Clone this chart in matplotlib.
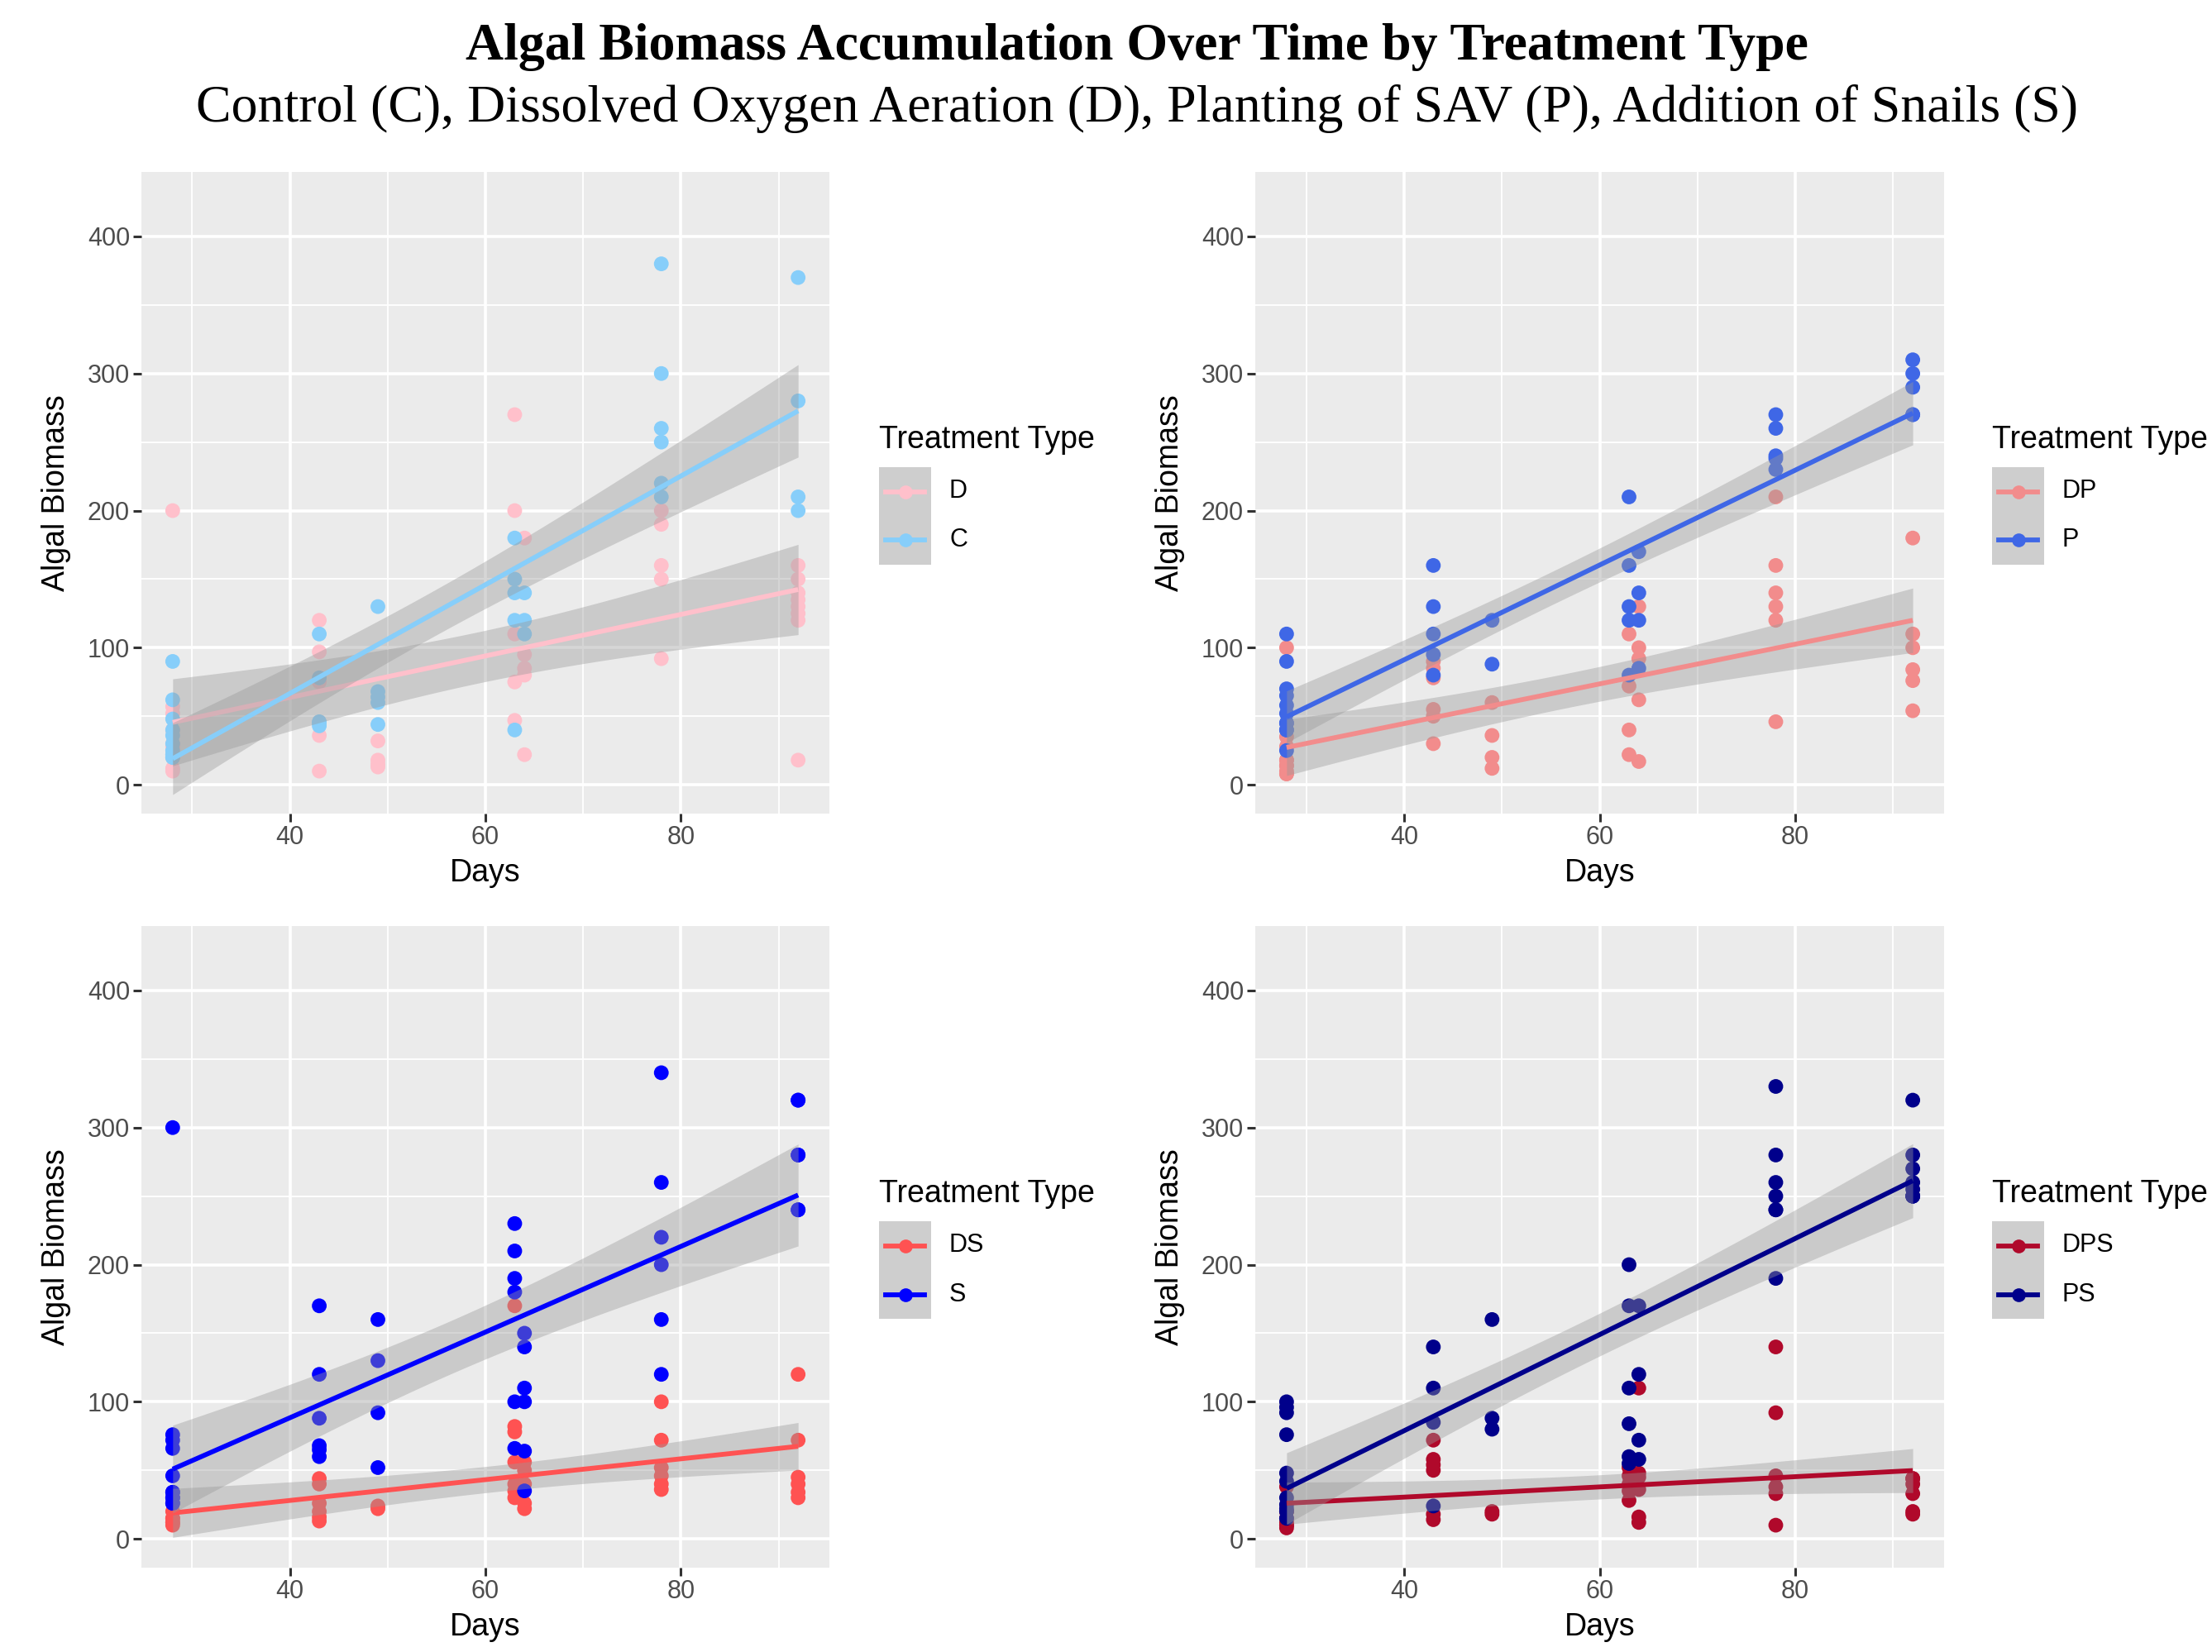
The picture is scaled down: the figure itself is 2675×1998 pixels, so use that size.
import matplotlib.pyplot as plt
from matplotlib.patches import Rectangle
from matplotlib.lines import Line2D
from matplotlib.ticker import MultipleLocator
import numpy as np

W, H = 2675, 1998
DPI = 100

# sampling days (shared by every treatment)
days = [28, 43, 49, 63, 64, 78, 92]

# biomass readings per day, one inner list per entry of `days`
# (repeated values stand for points hidden under each other)
c_values = [[90, 62, 48, 40, 36, 30, 25, 22, 22, 20, 20], [110, 78, 46, 45, 43],
            [130, 68, 64, 60, 44], [180, 150, 140, 120, 40], [140, 120, 110],
            [380, 300, 260, 250, 220, 210], [370, 280, 210, 200]]
d_values = [[200, 57, 52, 40, 30, 28, 20, 12, 10], [120, 97, 75, 36, 10], [32, 18, 15, 13],
            [270, 200, 110, 75, 47], [180, 95, 85, 80, 22], [200, 190, 160, 150, 92],
            [160, 150, 140, 135, 130, 125, 120, 18]]
p_values = [[110, 90, 70, 65, 58, 52, 45, 45, 40, 40, 25], [160, 130, 110, 95, 80], [120, 88],
            [210, 160, 130, 120, 80], [170, 140, 120, 85], [270, 260, 240, 238, 230],
            [310, 300, 290, 270, 270]]
dp_values = [[100, 35, 28, 18, 18, 14, 14, 10, 8, 8], [90, 85, 78, 55, 50, 30], [60, 36, 20, 12],
             [110, 72, 40, 22], [130, 100, 92, 62, 17], [210, 160, 140, 130, 120, 46],
             [180, 110, 100, 84, 76, 54]]
s_values = [[300, 76, 72, 66, 46, 34, 34, 30, 30, 26, 26], [170, 120, 88, 68, 65, 60],
            [160, 130, 92, 52], [230, 210, 190, 180, 100, 66], [150, 140, 110, 100, 64, 35],
            [340, 260, 220, 200, 160, 120], [320, 320, 280, 280, 240, 240]]
ds_values = [[20, 15, 15, 12, 12, 10], [44, 40, 26, 20, 16, 13], [24, 22],
             [170, 82, 78, 56, 40, 35, 30], [56, 50, 40, 26, 22], [100, 72, 52, 46, 40, 36],
             [120, 72, 45, 40, 34, 30]]
ps_values = [[100, 96, 92, 76, 48, 42, 30, 25, 22, 20, 15], [140, 110, 85, 24], [160, 88, 80],
             [200, 170, 110, 84, 60, 55], [170, 120, 72, 58], [330, 280, 260, 250, 240, 240, 190],
             [320, 280, 270, 260, 255, 250, 250, 250]]
dps_values = [[38, 20, 20, 15, 12, 10, 10, 8], [72, 58, 54, 50, 18, 14], [20, 18],
              [52, 46, 40, 35, 28], [110, 48, 45, 36, 16, 12], [140, 92, 46, 38, 33, 10],
              [44, 44, 40, 33, 20, 18]]

# panels: (first label, first values, first colour, second label, second values, second colour)
panels = [
    ("D", d_values, "#FFC0CB", "C", c_values, "#87CEFA"),
    ("DP", dp_values, "#F28C8C", "P", p_values, "#3F67E6"),
    ("DS", ds_values, "#FF5252", "S", s_values, "#0000FF"),
    ("DPS", dps_values, "#B0092B", "PS", ps_values, "#00008B"),
]

# panel boxes in pixels: left, top, right, bottom
boxes = [(171, 208, 1003, 984), (1518, 208, 2351, 984),
         (171, 1120, 1003, 1896), (1518, 1120, 2351, 1896)]
legend_xy = [(1063, 565), (2409, 565), (1063, 1477), (2409, 1477)]


def fx(x):
    return x / W


def fy(y):
    return 1 - y / H


def t975(df):
    # cornish-fisher expansion of the student t quantile
    z = 1.959964
    return z + (z**3 + z) / (4 * df) + (5 * z**5 + 16 * z**3 + 3 * z) / (96 * df**2)


def lm_band(x, y, grid):
    n = len(x)
    slope, icpt = np.polyfit(x, y, 1)
    resid = y - (slope * x + icpt)
    s = np.sqrt(np.sum(resid**2) / (n - 2))
    sxx = np.sum((x - x.mean())**2)
    se = s * np.sqrt(1 / n + (grid - x.mean())**2 / sxx)
    fit = slope * grid + icpt
    return fit, fit - t975(n - 2) * se, fit + t975(n - 2) * se


def flatten(values):
    xs = np.concatenate([[d] * len(v) for d, v in zip(days, values)]).astype(float)
    ys = np.concatenate(values).astype(float)
    return xs, ys


plt.rcParams['font.family'] = ['Liberation Sans', 'DejaVu Sans']
fig = plt.figure(figsize=(W / DPI, H / DPI), dpi=DPI)

for (lab1, v1, col1, lab2, v2, col2), (l, t, r, b), (lx, ly) in zip(panels, boxes, legend_xy):
    ax = fig.add_axes([fx(l), fy(b), fx(r) - fx(l), fy(t) - fy(b)])
    ax.set_facecolor("#EBEBEB")
    for s in ax.spines.values():
        s.set_visible(False)

    groups = [(flatten(v1), col1), (flatten(v2), col2)]
    for (xs, ys), col in groups:
        ax.scatter(xs, ys, s=165, color=col, edgecolors="none", zorder=2)

    for (xs, ys), col in groups:
        grid = np.linspace(xs.min(), xs.max(), 80)
        fit, lo, hi = lm_band(xs, ys, grid)
        ax.fill_between(grid, lo, hi, color="#999999", alpha=0.4, linewidth=0, zorder=3)
        ax.plot(grid, fit, color=col, lw=4.2, zorder=3, solid_capstyle="butt")

    ax.set_xlim(24.8, 95.2)
    ax.set_ylim(-21, 447)
    ax.set_xticks([40, 60, 80])
    ax.set_yticks([0, 100, 200, 300, 400])
    ax.xaxis.set_minor_locator(MultipleLocator(10))
    ax.yaxis.set_minor_locator(MultipleLocator(50))
    ax.grid(which="major", color="white", lw=2.6)
    ax.grid(which="minor", color="white", lw=1.3)
    ax.set_axisbelow(True)
    ax.tick_params(which="major", length=7, width=2.2, color="#333333",
                   labelsize=22, labelcolor="#4D4D4D", pad=3)
    ax.tick_params(which="minor", length=0)
    ax.set_xlabel("Days", fontsize=27, labelpad=7)
    ax.set_ylabel("Algal Biomass", fontsize=27, labelpad=14)

    # legend drawn like a ggplot guide: grey key tiles with line + point
    kw, kh = 63, 59
    fig.text(fx(lx), fy(ly - 23), "Treatment Type", fontsize=27, ha="left", va="baseline")
    for i, (lab, col) in enumerate([(lab1, col1), (lab2, col2)]):
        top = ly + i * kh
        fig.add_artist(Rectangle((fx(lx), fy(top + kh)), kw / W, kh / H,
                                 transform=fig.transFigure, facecolor="#CECECE", edgecolor="none"))
        cy = fy(top + kh / 2)
        fig.add_artist(Line2D([fx(lx + 8), fx(lx + kw - 8)], [cy, cy], color=col, lw=4.2,
                              transform=fig.transFigure))
        fig.add_artist(Line2D([fx(lx + kw / 2)], [cy], color=col, marker="o", markersize=12,
                              markeredgewidth=0, transform=fig.transFigure))
        fig.text(fx(lx + 85), cy, lab, fontsize=22, ha="left", va="center")

fig.text(0.514, fy(72), "Algal Biomass Accumulation Over Time by Treatment Type",
         fontsize=46, fontweight="bold", family=["Liberation Serif", "DejaVu Serif"],
         ha="center", va="baseline")
fig.text(0.514, fy(147), "Control (C), Dissolved Oxygen Aeration (D), Planting of SAV (P), "
         "Addition of Snails (S)", fontsize=46, family=["Liberation Serif", "DejaVu Serif"],
         ha="center", va="baseline")

fig.savefig("out.png", dpi=DPI, facecolor="white")
